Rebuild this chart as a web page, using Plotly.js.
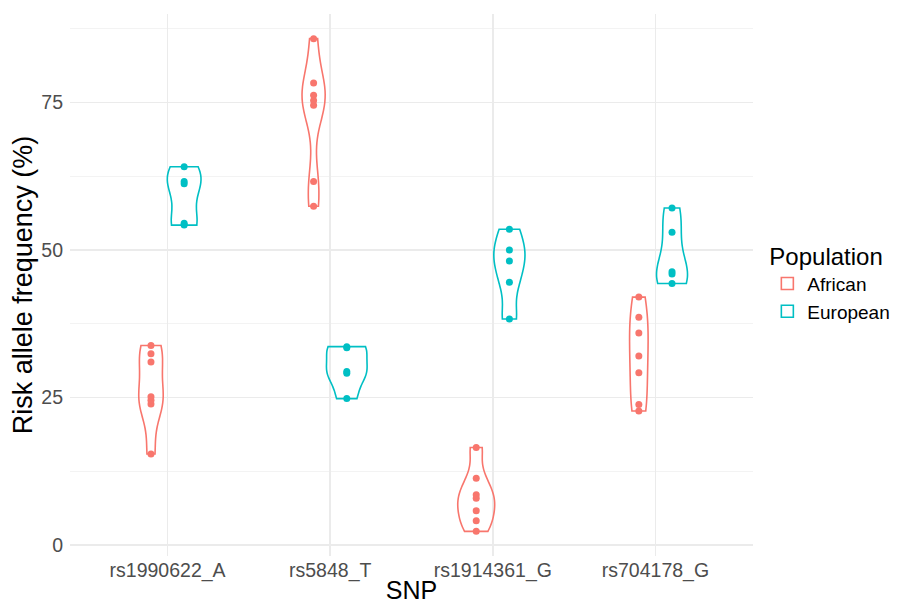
<!DOCTYPE html>
<html><head><meta charset="utf-8">
<script src="https://cdn.plot.ly/plotly-3.0.1.min.js"></script>
<style>html,body{margin:0;padding:0;background:#fff}</style>
</head><body><div id="chart" style="width:907px;height:604px"></div>
<script>
// ---- data ----
const snps = ["rs1990622_A", "rs5848_T", "rs1914361_G", "rs704178_G"];
const populations = ["African", "European"];
const africanValues = [
  [33.8, 32.4, 31.0, 25.1, 24.5, 23.9, 15.4],
  [85.8, 78.3, 76.2, 75.3, 74.5, 61.6, 57.4],
  [16.5, 11.3, 8.5, 7.9, 5.8, 4.1, 2.3],
  [42.0, 38.6, 35.9, 32.0, 29.2, 23.8, 22.7]
];
const europeanValues = [
  [64.1, 61.6, 61.2, 54.5, 54.2],
  [33.6, 33.4, 29.4, 29.1, 24.8],
  [53.5, 50.0, 48.1, 44.5, 38.3],
  [57.1, 53.0, 46.3, 45.9, 44.3]
];
const yTickVals = [0, 25, 50, 75];

// ---- styling ----
const colors = {African: "#F8766D", European: "#00BFC4"};
const dodge = {African: -0.102, European: 0.102};
const maxViolinWidth = 0.25;

// helpers: R-like nrd0 bandwidth and gaussian KDE
function quantile7(arr, p) {
  const s = arr.slice().sort((a, b) => a - b);
  const h = (s.length - 1) * p, lo = Math.floor(h), hi = Math.ceil(h);
  return s[lo] + (h - lo) * (s[hi] - s[lo]);
}
function nrd0(arr) {
  const n = arr.length;
  const mean = arr.reduce((a, b) => a + b, 0) / n;
  const sd = Math.sqrt(arr.reduce((a, b) => a + (b - mean) * (b - mean), 0) / (n - 1));
  const iqr = quantile7(arr, 0.75) - quantile7(arr, 0.25);
  let lo = Math.min(sd, iqr / 1.34);
  if (!(lo > 0)) lo = sd || Math.abs(arr[0]) || 1;
  return 0.9 * lo * Math.pow(n, -0.2);
}
function maxDensity(arr, bw) {
  const mn = Math.min(...arr), mx = Math.max(...arr);
  let best = 0;
  for (let k = 0; k <= 400; k++) {
    const t = mn + (mx - mn) * k / 400;
    let s = 0;
    for (const v of arr) { const z = (t - v) / bw; s += Math.exp(-0.5 * z * z); }
    s /= arr.length * bw * Math.sqrt(2 * Math.PI);
    if (s > best) best = s;
  }
  return best;
}

const groups = [];
snps.forEach((snp, i) => {
  groups.push({pop: "African", idx: i, vals: africanValues[i]});
  groups.push({pop: "European", idx: i, vals: europeanValues[i]});
});
groups.forEach(g => { g.bw = nrd0(g.vals); g.maxd = maxDensity(g.vals, g.bw); });
const globalMax = Math.max(...groups.map(g => g.maxd));

const shownLegend = {};
const traces = groups.map((g, k) => {
  const show = !shownLegend[g.pop];
  shownLegend[g.pop] = true;
  return {
    type: "violin",
    name: g.pop,
    legendgroup: g.pop,
    showlegend: show,
    x: g.vals.map(() => g.idx + 1 + dodge[g.pop]),
    y: g.vals,
    bandwidth: g.bw,
    spanmode: "hard",
    scalemode: "width",
    scalegroup: "v" + k,
    width: maxViolinWidth * g.maxd / globalMax,
    line: {color: colors[g.pop], width: 1.6},
    fillcolor: "rgba(0,0,0,0)",
    points: "all",
    pointpos: 0,
    jitter: 0,
    marker: {color: colors[g.pop], size: 7, line: {width: 0}},
    box: {visible: false},
    meanline: {visible: false},
    hoverinfo: "y+name"
  };
});

const layout = {
  width: 907, height: 604,
  margin: {l: 70, r: 151, t: 14, b: 48},
  paper_bgcolor: "#ffffff",
  plot_bgcolor: "#ffffff",
  font: {family: "Liberation Sans, Arial, sans-serif", color: "#4D4D4D"},
  violinmode: "overlay",
  xaxis: {
    range: [0.4, 4.6],
    tickvals: snps.map((s, i) => i + 1),
    ticktext: snps,
    showgrid: true, gridcolor: "#EBEBEB", gridwidth: 1.5,
    zeroline: false, showline: false, ticks: "",
    automargin: false,
    tickfont: {size: 19.5, color: "#4D4D4D"},
    title: {text: "SNP", font: {size: 25, color: "#000000"}, standoff: 2}
  },
  yaxis: {
    range: [-1.875, 89.975],
    tickvals: yTickVals,
    ticktext: yTickVals.map(String),
    showgrid: true, gridcolor: "#EBEBEB", gridwidth: 1.5,
    minor: {tickvals: [12.5, 37.5, 62.5, 87.5], showgrid: true, gridcolor: "#F3F3F3", gridwidth: 1, ticks: ""},
    zeroline: false, showline: false, ticks: "",
    ticklabelstandoff: 6,
    automargin: false,
    tickfont: {size: 19.5, color: "#4D4D4D"},
    title: {text: "Risk allele frequency (%)", font: {size: 27, color: "#000000"}, standoff: 0}
  },
  showlegend: true,
  legend: {
    x: 1.021, xanchor: "left", y: 0.595, yanchor: "top",
    title: {text: "Population", font: {size: 24, color: "#000000"}},
    font: {size: 19, color: "#000000"},
    bgcolor: "rgba(0,0,0,0)",
    tracegroupgap: 0
  }
};

Plotly.newPlot("chart", traces, layout, {displayModeBar: false, staticPlot: true});
</script>
</body></html>
